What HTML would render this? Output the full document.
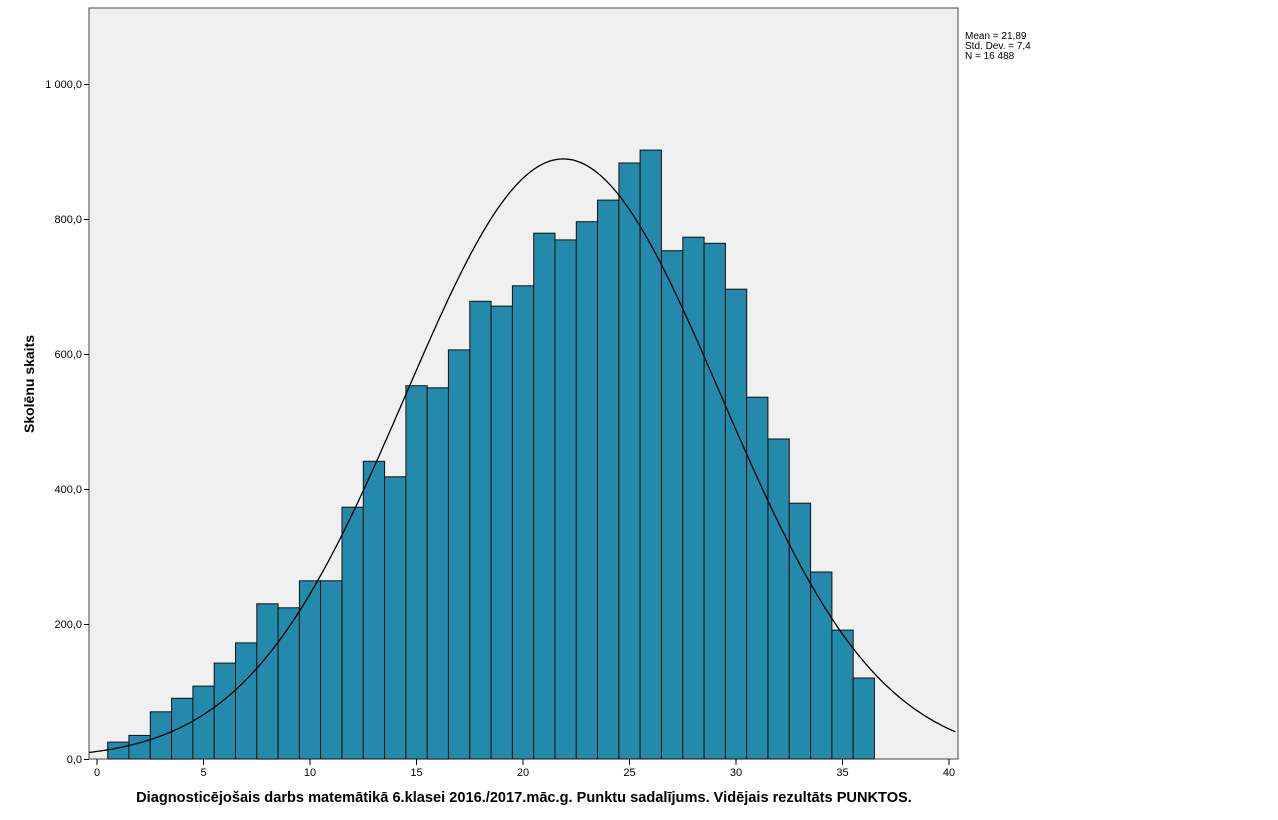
<!DOCTYPE html>
<html><head><meta charset="utf-8"><style>
html,body{margin:0;padding:0;background:#fff;width:1278px;height:820px;overflow:hidden}
svg text{font-family:"Liberation Sans",Arial,sans-serif}
</style></head><body>
<svg id="s" width="1278" height="820" xmlns="http://www.w3.org/2000/svg">
<defs><clipPath id="c"><rect x="89" y="8" width="869" height="751"/></clipPath></defs>
<rect x="89" y="8" width="869" height="751" fill="#f0f0f0" stroke="#444" stroke-width="1"/>
<g id="bars"></g>
<path id="curve" fill="none" stroke="#000" stroke-width="1.3" clip-path="url(#c)"/>
<g font-size="11" fill="#000" text-anchor="end">
<text x="82" y="763">0,0</text>
<text x="82" y="628">200,0</text>
<text x="82" y="493">400,0</text>
<text x="82" y="358">600,0</text>
<text x="82" y="223">800,0</text>
<text x="82" y="88">1 000,0</text>
</g>
<g stroke="#000"><line x1="84" x2="89" y1="759.5" y2="759.5"/><line x1="84" x2="89" y1="624.5" y2="624.5"/><line x1="84" x2="89" y1="489.5" y2="489.5"/><line x1="84" x2="89" y1="354.5" y2="354.5"/><line x1="84" x2="89" y1="219.5" y2="219.5"/><line x1="84" x2="89" y1="84.5" y2="84.5"/></g>
<g id="xt" font-size="11" text-anchor="middle"></g>
<text x="524" y="802" font-size="14.6" font-weight="bold" text-anchor="middle">Diagnosticējošais darbs matemātikā 6.klasei 2016./2017.māc.g. Punktu sadalījums. Vidējais rezultāts PUNKTOS.</text>
<text transform="translate(34,384) rotate(-90)" font-size="14" font-weight="bold" text-anchor="middle">Skolēnu skaits</text>
<g font-size="10"><text x="965" y="39">Mean = 21,89</text><text x="965" y="49">Std. Dev. = 7,4</text><text x="965" y="59">N = 16 488</text></g>
</svg>
<script>
var X=function(v){return 97+v*21.3}, Y=function(v){return 759-v*0.675};
var h=[25,35,70,90,108,142,172,230,224,264,264,373,441,418,553,550,606,678,671,701,779,769,796,828,883,902,753,773,764,696,536,474,379,277,191,120];
var g='';h.forEach(function(v,i){var x=X(i+0.5);g+='<rect x="'+x.toFixed(1)+'" y="'+Y(v).toFixed(1)+'" width="21.3" height="'+(v*0.675).toFixed(1)+'" fill="#248aac" stroke="#111" stroke-width="1"/>';});
document.getElementById('bars').innerHTML=g;
var d='';for(var x=-0.4;x<=40.4;x+=0.1){var v=889*Math.exp(-Math.pow(x-21.89,2)/(2*7.4*7.4));d+=(d?'L':'M')+X(x).toFixed(1)+','+Y(v).toFixed(1);}
document.getElementById('curve').setAttribute('d',d);
var t='';for(var k=0;k<=40;k+=5){var x=X(k);t+='<line x1="'+x+'" x2="'+x+'" y1="759" y2="765" stroke="#000"/><text x="'+x+'" y="776">'+k+'</text>';}
document.getElementById('xt').innerHTML=t;
</script>
</body></html>
